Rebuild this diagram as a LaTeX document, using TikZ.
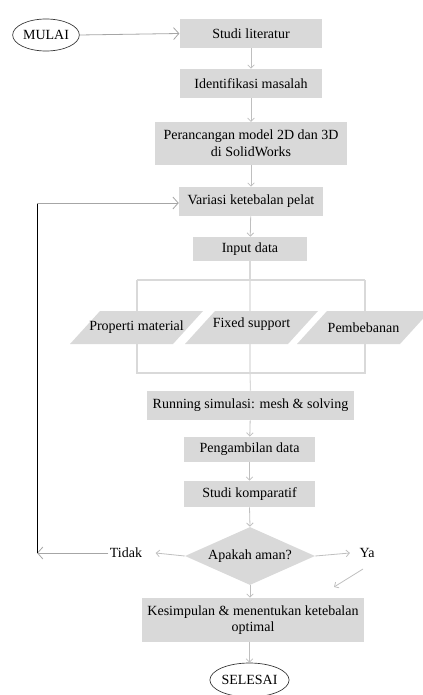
\documentclass[tikz,border=0pt]{standalone}
\usepackage{fontspec}
\setmainfont{Liberation Serif}
\usetikzlibrary{arrows.meta,shapes.geometric}
\definecolor{boxgray}{HTML}{D9D9D9}
\definecolor{arrgray}{HTML}{BFBFBF}
\definecolor{loopgray}{HTML}{A6A6A6}
\definecolor{linegray}{HTML}{D9D9D9}
\tikzset{
  px/.style={x=0.75pt,y=-0.75pt},
  txt/.style={font=\fontsize{10.5}{12.5}\selectfont, text=black},
  pbox/.style={txt, fill=boxgray, draw=none, inner sep=0pt, align=center},
  term/.style={txt, ellipse, draw=black!80, line width=0.5pt, inner sep=0pt},
  flow/.style={draw=arrgray, line width=0.6pt, -{Straight Barb[length=2.5pt,width=5pt]}},
  bigflow/.style={draw=loopgray, line width=0.6pt, -{Straight Barb[length=4pt,width=9pt]}},
  branch/.style={draw=linegray, line width=0.8pt},
  decision/.style={txt, diamond, fill=boxgray, inner sep=0pt, aspect=2.2},
}
\begin{document}
\begin{tikzpicture}[px]
\useasboundingbox (0,0) rectangle (423,695);
\begin{scope}
\clip (0,0) rectangle (423,695);
% terminals and process boxes
\node[term, minimum width=50pt, minimum height=24pt] (mulai) at (46,35) {MULAI};
\node[pbox, minimum width=107pt, minimum height=21.75pt] (s1) at (251,33.5) {Studi literatur};
\node[pbox, minimum width=107pt, minimum height=21.75pt] (s2) at (251,83.5) {Identifikasi masalah};
\node[pbox, minimum width=144pt, minimum height=32pt] (s3) at (251,143.5) {Perancangan model 2D dan 3D\\di SolidWorks};
\node[pbox, minimum width=108pt, minimum height=21.75pt] (s4) at (251,201.5) {Variasi ketebalan pelat};
\node[pbox, minimum width=85.5pt, minimum height=18pt] (s5) at (250,249) {Input data};
\node[pbox, minimum width=155pt, minimum height=21.75pt] (s6) at (250.5,405.5) {Running simulasi: mesh \& solving};
\node[pbox, minimum width=98pt, minimum height=19pt] (s7) at (249.5,449.5) {Pengambilan data};
\node[pbox, minimum width=98pt, minimum height=19.5pt] (s8) at (249.5,494) {Studi komparatif};
\node[decision, minimum width=97.5pt, minimum height=43.5pt] (d) at (250,556) {Apakah aman?};
\node[pbox, minimum width=166.5pt, minimum height=33pt] (s9) at (253,620) {Kesimpulan \& menentukan ketebalan\\optimal};
\node[term, minimum width=50pt, minimum height=25.5pt] (selesai) at (249.5,680) {SELESAI};
\node[txt, inner sep=1pt] (tidak) at (126,553) {Tidak};
\node[txt, inner sep=1pt] (ya) at (367,553) {Ya};

% branch structure
\coordinate (bl) at (137,280);
\coordinate (br) at (365,280);
\coordinate (bbl) at (137,373);
\coordinate (bbr) at (365,373);
\draw[branch] (s5.south) -- (s5.south |- bl);
\draw[branch] (bl) -- (br);
\draw[branch] (bl) -- (bbl) -- (bbr) -- (br);
\draw[branch] (s5.south |- bl) -- (s5.south |- bbl) -- (s6.north);

% parallelograms
\foreach \L/\n/\t/\dy in {70/p1/Properti material/0,185/p2/Fixed support/-3,297/p3/Pembebanan/0}{
  \fill[boxgray] (\L,344) -- (\L+103,344) -- (\L+133,311) -- (\L+30,311) -- cycle;
  \node[txt, inner sep=0pt] (\n) at (\L+66.5,327.5+\dy) {\t};
}
\end{scope}

% main flow
\draw[bigflow] (mulai.east) -- (s1.west);
\draw[flow] (s1) -- (s2);
\draw[flow] (s2) -- (s3);
\draw[flow] (s3) -- (s4);
\draw[flow] (s4) -- (s5);
\draw[flow] (s6) -- (s7);
\draw[flow] (s7) -- (s8);
\draw[flow] (s8.south) -- (d.north);
\draw[flow] (d.south) -- (d.south |- s9.north);
\draw[flow] (s9.south -| selesai.north) -- (selesai.north);

% decision branches
\draw[flow] (d.west) -- ([xshift=9pt]tidak.east);
\draw[flow] (d.east) -- ([xshift=-6pt]ya.west);
\coordinate (ya1) at (363,569);
\coordinate (ya2) at (334,587);
\draw[flow] (ya1) -- (ya2);

% loop back
\coordinate (lb) at (37,553);
\coordinate (lt) at (37,203);
\draw[bigflow] (tidak.west) -- (lb);
\draw[black, line width=0.7pt] (lb) -- (lt);
\draw[bigflow] (lt) -- (lt -| s4.west);
\end{tikzpicture}
\end{document}
